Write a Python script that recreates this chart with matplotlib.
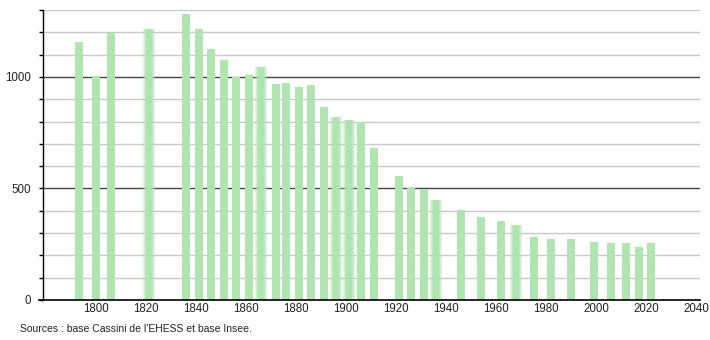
import numpy as np
import matplotlib
matplotlib.use("Agg")
import matplotlib.pyplot as plt
from matplotlib.colors import to_rgb

years = [1793, 1800, 1806, 1821, 1836, 1841, 1846, 1851, 1856, 1861, 1866, 1872,
         1876, 1881, 1886, 1891, 1896, 1901, 1906, 1911, 1921, 1926, 1931, 1936,
         1946, 1954, 1962, 1968, 1975, 1982, 1990, 1999, 2006, 2012, 2017, 2022]
population = [1155, 1006, 1197, 1212, 1281, 1217, 1127, 1078, 1001, 1009, 1042, 970,
              974, 956, 965, 863, 817, 804, 798, 682, 554, 503, 498, 446,
              404, 374, 352, 334, 283, 274, 274, 262, 256, 254, 238, 256]
faded_years = [1821, 1866, 1896, 1901, 1936, 1968]
x_ticks = [1800, 1820, 1840, 1860, 1880, 1900, 1920, 1940, 1960, 1980, 2000, 2020, 2040]
y_major = [0, 500, 1000]
y_minor = list(range(0, 1301, 100))
source_text = "Sources : base Cassini de l'EHESS et base Insee."

plt.rcParams['font.family'] = ['Liberation Sans', 'DejaVu Sans']

fig = plt.figure(figsize=(7.1, 3.4), dpi=100)
ax = fig.add_axes([43/710, 40/340, 657/710, 290/340])

bar_color = '#b0e4b0'
bar_w = 3.2
xmin, xmax = 1778.7, 2041.5
ax.set_xlim(xmin, xmax)
ax.set_ylim(0, 1300)

# gridlines
for v in y_minor:
    if v == 0:
        continue
    if v in y_major:
        ax.axhline(v, color='#444444', lw=1.0, zorder=1)
    else:
        ax.axhline(v, color='#c8c8c8', lw=1.0, zorder=1)

rgb = np.array(to_rgb(bar_color))
for yr, val in zip(years, population):
    if yr in faded_years:
        n = 40
        t = np.linspace(-1, 1, n)
        alpha = np.clip(1.7 * (1 - np.abs(t)), 0, 1)
        img = np.zeros((1, n, 4))
        img[0, :, :3] = rgb
        img[0, :, 3] = alpha
        ax.imshow(img, extent=(yr - bar_w * 0.85, yr + bar_w * 0.85, 0, val),
                  aspect='auto', interpolation='bilinear', zorder=2)
    else:
        ax.bar(yr, val, width=bar_w, color=bar_color, zorder=2, linewidth=0)

ax.set_xlim(xmin, xmax)
ax.set_ylim(0, 1300)

for s in ['top', 'right']:
    ax.spines[s].set_visible(False)
ax.spines['left'].set_color('black')
ax.spines['bottom'].set_color('black')
ax.spines['left'].set_linewidth(1.0)
ax.spines['bottom'].set_linewidth(1.2)

ax.set_xticks(x_ticks)
ax.set_xticklabels([str(x) for x in x_ticks])
ax.tick_params(axis='x', length=0, pad=2.5, labelsize=8.3, colors='#222222')
ax.set_yticks(y_major)
ax.set_yticklabels([str(v) for v in y_major])
ax.set_yticks(y_minor, minor=True)
ax.tick_params(axis='y', which='major', length=3, width=1, pad=5.5, labelsize=8.3, colors='#222222')
ax.tick_params(axis='y', which='minor', length=3, width=1, color='black')
ax.tick_params(axis='y', which='major', color='black')

# extend x-axis line slightly to the left
ax.plot([xmin - 4 / 2.5, xmin], [0, 0], color='black', lw=1.2, clip_on=False, zorder=5)

fig.text(20/710, 1 - 329/340, source_text, fontsize=7.5, va='center', ha='left', color='#222222')

fig.savefig('out.png', dpi=100)
